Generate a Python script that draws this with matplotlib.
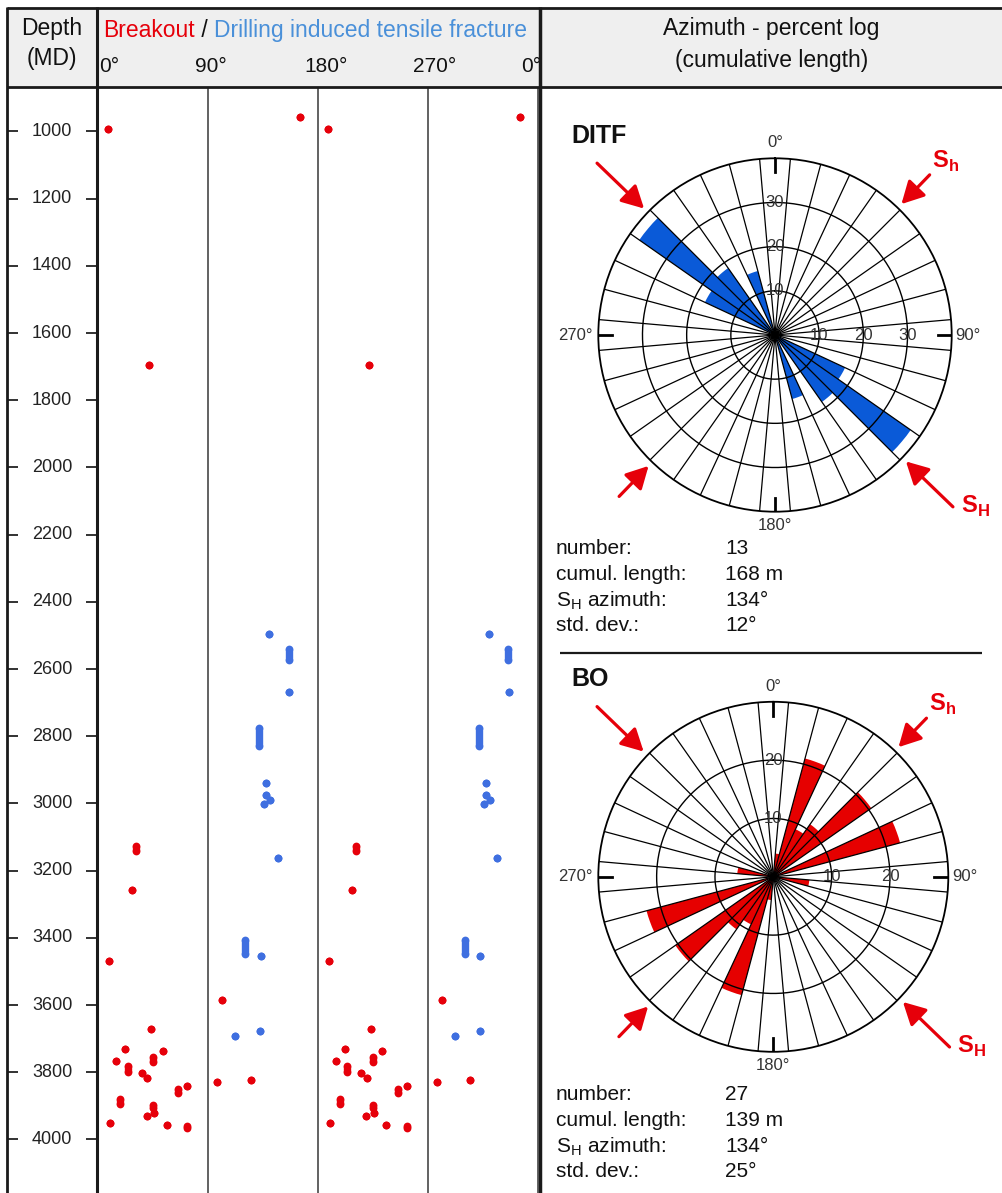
import numpy as np
import matplotlib
matplotlib.use('Agg')
import matplotlib.pyplot as plt
from matplotlib.patches import Rectangle
from matplotlib.transforms import blended_transform_factory

plt.rcParams['font.family'] = ['Liberation Sans', 'DejaVu Sans']
plt.rcParams['mathtext.fontset'] = 'custom'
plt.rcParams['mathtext.rm'] = 'Liberation Sans'
plt.rcParams['mathtext.bf'] = 'Liberation Sans:bold'

# %% data read off the log (depth in m MD, azimuth in deg; features are mirrored at +180)
bo_top = [957, 993, 1695, 3126, 3258, 3468, 3585, 3671, 3732, 3737, 3767, 3753, 3780,
          3801, 3818, 3851, 3841, 3880, 3897, 3922, 3930, 3950, 3957, 3960, 3828, 3823]
bo_bot = [957, 993, 1695, 3140, 3258, 3468, 3585, 3671, 3732, 3737, 3767, 3768, 3800,
          3801, 3818, 3861, 3841, 3894, 3907, 3922, 3930, 3950, 3957, 3965, 3828, 3823]
bo_az = [165, 8, 41.6, 31, 27.4, 8.6, 101, 43, 21.7, 52.6, 14.3, 44.9, 23.9,
         35.4, 40, 65.4, 72.8, 17.6, 44.9, 45.7, 39.5, 9.4, 55.8, 72.8, 97.3, 124.6]

ditf_top = [2497, 2541, 2668, 2776, 2940, 2975, 2990, 3001, 3163, 3406, 3454, 3692, 3677]
ditf_bot = [2497, 2573, 2668, 2829, 2940, 2975, 2990, 3001, 3163, 3449, 3454, 3692, 3677]
ditf_az = [139.9, 155.8, 156.1, 131.7, 137.2, 137.2, 140.5, 135.8, 146.7, 120, 132.8, 111.8, 132.3]

depth_ticks = [1000, 1200, 1400, 1600, 1800, 2000, 2200, 2400, 2600, 2800, 3000,
               3200, 3400, 3600, 3800, 4000]

# rose diagrams: bin centres (deg, 0-180) and percent of cumulative length
ditf_bins = [120, 130, 140, 160]
ditf_pct = [17.5, 37.5, 18.5, 15]
bo_bins = [10, 20, 30, 40, 50, 70, 100]
bo_pct = [4, 21, 9, 11, 20.5, 22.5, 6.2]

stat_labels = ['number:', 'cumul. length:', 'S$_\\mathregular{H}$ azimuth:', 'std. dev.:']
ditf_stats = ['13', '168 m', '134°', '12°']
bo_stats = ['27', '139 m', '134°', '25°']
sh_azimuth = 134

RED = '#e6000a'
DOT_BLUE = '#3f6fe0'
HEAD_BLUE = '#4a90d9'
ROSE_BLUE = '#0a5ad8'
ROSE_RED = '#e60000'

# %% layout (pixels)
W, H = 1003, 1193
fig = plt.figure(figsize=(W / 100, H / 100), dpi=100)


def px_box(left, top, width, height):
    return [left / W, 1 - (top + height) / H, width / W, height / H]


bg = fig.add_axes([0, 0, 1, 1])
bg.set_xlim(0, W)
bg.set_ylim(H, 0)
bg.axis('off')
bg.add_patch(Rectangle((7, 7), W - 7, 80, facecolor='#efefef', edgecolor='none'))

# depth scale: 1000 m at y=131.5 px, 0.336 px per m
ppm = 0.336
ylim = (1000 + (H - 131.5) / ppm, 1000 + (87 - 131.5) / ppm)

ax_d = fig.add_axes(px_box(7.5, 87, 89.5, H - 87))
ax_d.set_ylim(*ylim)
ax_d.set_xlim(0, 1)
for s in ax_d.spines.values():
    s.set_visible(False)
ax_d.set_xticks([])
ax_d.set_yticks(depth_ticks)
ax_d.set_yticklabels([])
ax_d.tick_params(axis='y', direction='in', length=8, width=1.3, color='#222',
                 left=True, right=True)
ax_d.patch.set_alpha(0)
for d in depth_ticks:
    ax_d.text(0.5, d, str(d), ha='center', va='center', fontsize=13, color='#222',
              transform=blended_transform_factory(ax_d.transAxes, ax_d.transData))

# azimuth track: 0 deg at x=98.5, 360 deg at x=538
deg_px = (538 - 98.5) / 360
ax_t = fig.add_axes(px_box(97, 87, 443, H - 87))
ax_t.set_xlim(-1.5 / deg_px, 360 + 2 / deg_px)
ax_t.set_ylim(*ylim)
ax_t.axis('off')
for a in (90, 180, 270, 360):
    ax_t.axvline(a, color='#555', lw=1.3, zorder=1)


def draw_features(top, bot, az, color):
    for t, b, a in zip(top, bot, az):
        for off in (0, 180):
            ax_t.plot([a + off, a + off], [t, b], color=color, lw=5.3, marker='o',
                      ms=5.6, mec='none', solid_capstyle='butt', zorder=3)


draw_features(bo_top, bo_bot, bo_az, RED)
draw_features(ditf_top, ditf_bot, ditf_az, DOT_BLUE)

# header over track
head_tr = blended_transform_factory(ax_t.transData, bg.transData)
for x, lab, ha in zip([0.5, 92, 186, 275, 362.5], ['0°', '90°', '180°', '270°', '0°'],
                      ['left', 'center', 'center', 'center', 'right']):
    ax_t.text(x, 67, lab, ha=ha, va='center', fontsize=15, color='#111',
              transform=head_tr, clip_on=False)

top = fig.add_axes([0, 0, 1, 1], zorder=20)
top.set_xlim(0, W)
top.set_ylim(H, 0)
top.axis('off')
top.patch.set_alpha(0)

t1 = top.text(103, 42, 'Breakout', color=RED, fontsize=16.5, va='bottom')
t2 = top.annotate(' / ', xy=(1, 0), xycoords=t1, color='#111', fontsize=16.5, va='bottom')
top.annotate('Drilling induced tensile fracture', xy=(1, 0), xycoords=t2, color=HEAD_BLUE,
             fontsize=16.5, va='bottom')
top.text(52, 29, 'Depth', ha='center', va='center', fontsize=16.5, color='#111')
top.text(52, 59, '(MD)', ha='center', va='center', fontsize=16.5, color='#111')
top.text(771, 28, 'Azimuth - percent log', ha='center', va='center', fontsize=16.5, color='#111')
top.text(772, 60, '(cumulative length)', ha='center', va='center', fontsize=16.5, color='#111')

frame = dict(color='#1a1a1a', solid_capstyle='butt')
top.plot([7, W], [7.5, 7.5], lw=2, **frame)
top.plot([7, W], [87, 87], lw=2, **frame)
top.plot([7.5, 7.5], [7, H], lw=2, **frame)
top.plot([97, 97], [7, H], lw=2.2, **frame)
top.plot([540, 540], [7, H], lw=2.5, **frame)
top.plot([560, 982], [653, 653], lw=1.6, **frame)


# %% rose diagrams
def rose(box, bins, pct, color, rmax, rings, title, stats, title_y, stats_y):
    ax = fig.add_axes(box, projection='polar')
    ax.set_theta_zero_location('N')
    ax.set_theta_direction(-1)
    ax.set_ylim(0, rmax)
    ax.grid(False)
    ax.set_xticks([])
    ax.set_yticks([])
    ax.spines['polar'].set_linewidth(1.3)
    bins = np.array(bins, dtype=float)
    th = np.radians(np.concatenate([bins, bins + 180]))
    ax.bar(th, np.concatenate([pct, pct]), width=np.radians(10), color=color,
           linewidth=0, zorder=1)
    full = np.linspace(0, 2 * np.pi, 400)
    for r in rings:
        ax.plot(full, np.full_like(full, r), color='k', lw=1, zorder=2)
    for a in np.arange(5, 360, 10):
        ax.plot([np.radians(a)] * 2, [0, rmax], color='k', lw=0.9, zorder=2)
    for a in (0, 90, 180, 270):
        ax.plot([np.radians(a)] * 2, [rmax * 0.92, rmax], color='k', lw=2, zorder=2)
    for r in rings:
        for a in (0, 90):
            ax.text(np.radians(a), r, str(r), ha='center', va='center', fontsize=12,
                    color='#333', zorder=3)
    ax.text(0, rmax * 1.09, '0°', ha='center', va='center', fontsize=12, color='#333')
    ax.text(np.pi, rmax * 1.08, '180°', ha='center', va='center', fontsize=12, color='#333')
    ax.text(np.radians(90), rmax * 1.02, '90°', ha='left', va='center', fontsize=12, color='#333')
    ax.text(np.radians(270), rmax * 1.03, '270°', ha='right', va='center', fontsize=12, color='#333')
    # stress arrows
    for a, tail in ((sh_azimuth, 1.40), (sh_azimuth + 180, 1.40),
                    (sh_azimuth - 90, 1.26), (sh_azimuth + 90, 1.27)):
        ax.annotate('', xy=(np.radians(a), rmax * 1.03), xytext=(np.radians(a), rmax * tail),
                    arrowprops=dict(arrowstyle='-|>,head_length=0.75,head_width=0.4',
                                    color=RED, lw=2.3, shrinkA=0, shrinkB=0,
                                    mutation_scale=18),
                    annotation_clip=False)
    ax.text(np.radians(sh_azimuth - 89.5), rmax * 1.38, 'S$_\\mathbf{h}$', color=RED,
            fontsize=17, fontweight='bold', ha='center', va='center')
    ax.text(np.radians(sh_azimuth - 3.5), rmax * 1.49, 'S$_\\mathbf{H}$', color=RED,
            fontsize=17, fontweight='bold', ha='center', va='center')
    top.text(571, title_y, title, fontsize=18, fontweight='bold', va='center', color='#111')
    for i, (lab, val) in enumerate(zip(stat_labels, stats)):
        y = stats_y + i * 25.6
        top.text(556, y, lab, fontsize=15, va='center', color='#111')
        top.text(725, y, val, fontsize=15, va='center', color='#111')
    return ax


rose(px_box(598.3, 158.3, 353.4, 353.4), ditf_bins, ditf_pct, ROSE_BLUE, 40,
     [10, 20, 30], 'DITF', ditf_stats, 136, 549)
rose(px_box(598.3, 701.8, 350, 350), bo_bins, bo_pct, ROSE_RED, 30,
     [10, 20], 'BO', bo_stats, 679, 1095)

fig.savefig('out.png', dpi=100)
